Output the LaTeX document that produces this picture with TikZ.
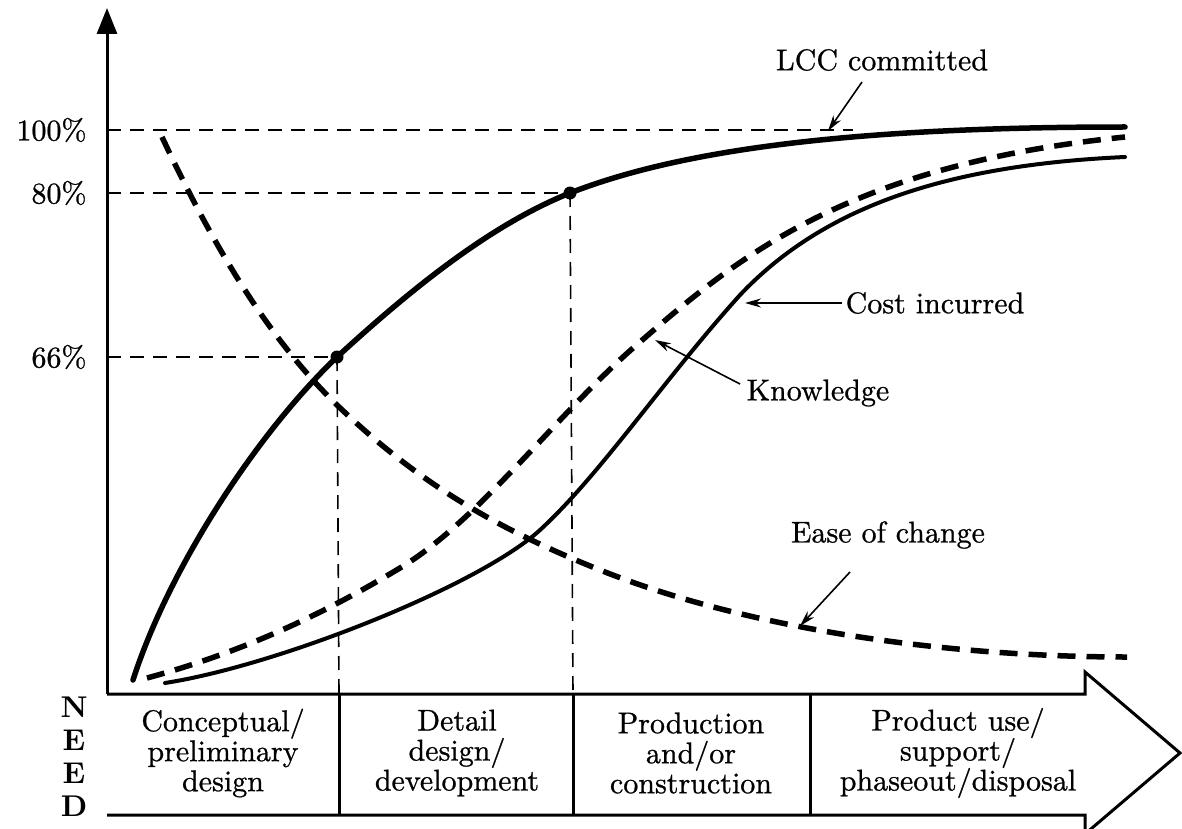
\documentclass[tikz,border=0pt]{standalone}
\usepackage{amsmath}
\usepackage{fontspec}
\newfontfamily\labelfont{lmroman10-regular.otf}[FakeBold=0.8]
\newfontfamily\needfont{lmroman10-bold.otf}
\usepackage{tikz}
\usetikzlibrary{arrows.meta}

\begin{document}
\begin{tikzpicture}[x=1pt,y=-1pt,
    every node/.style={font=\labelfont\fontsize{30}{30}\selectfont},
    guide/.style={line width=1.6pt,dash pattern=on 14pt off 9pt},
    heavy/.style={line width=5.5pt,line cap=round},
    heavydash/.style={line width=5.5pt,dash pattern=on 18pt off 11pt},
    pointer/.style={line width=1.6pt,-{Stealth[length=16pt,width=9pt]}},
    phase/.style={align=center,font=\labelfont\fontsize{30}{30}\selectfont}]

\useasboundingbox (0,0) rectangle (1182,829);

\coordinate (origin) at (107,694);
\coordinate (top) at (107,8);
\coordinate (d66) at (337,357);
\coordinate (d80) at (570,193);

% axis
\draw [line width=3pt,-{Triangle[length=26pt,width=20pt]}] (origin) -- (top);

% life cycle band
\draw [line width=3pt,line join=miter] (origin) -- (1085,694) -- (1085,672) -- (1180,753)
    -- (1085,834) -- (1085,815) -- (107,815);
\foreach \x in {339,573,810}
    \draw [line width=3pt] (\x,694) -- (\x,815);

% levels
\node [anchor=east] (p100) at (90,130) {100\%};
\node [anchor=east] (p80) at (90,193) {80\%};
\node [anchor=east] (p66) at (90,357) {66\%};
\draw [guide] (107,130) -- (853,130);
\draw [guide] (107,193) -- (d80);
\draw [guide] (107,357) -- (d66);
\draw [guide] (d66) -- (339,694);
\draw [guide] (d80) -- (573,694);

% curves
\draw [heavy] (133,680) .. controls (170,565) and (260,430) .. (d66)
    .. controls (410,290) and (490,225) .. (d80)
    .. controls (680,150) and (850,127) .. (1125,127);
\draw [heavydash] (162,137) .. controls (215,250) and (270,340) .. (337,405)
    .. controls (420,485) and (500,530) .. (600,570)
    .. controls (750,630) and (950,657) .. (1127,657);
\draw [heavydash] (147,678) .. controls (250,650) and (330,610) .. (400,568)
    .. controls (480,520) and (560,410) .. (640,342)
    .. controls (740,255) and (850,165) .. (1125,137);
\draw [line width=4pt,line cap=round] (165,683) .. controls (280,665) and (480,585) .. (540,530)
    .. controls (600,475) and (665,378) .. (740,295)
    .. controls (825,205) and (950,165) .. (1125,157);

\foreach \i in {d66,d80}
    \fill (\i) circle (6.5pt);

% labels
\node (lcc) at (882,60) {LCC committed};
\node (cost) at (935,303) {Cost incurred};
\node (know) at (818,393) {Knowledge};
\node (ease) at (888,535) {Ease of change};

\coordinate (onlcc) at (828,131);
\coordinate (oncost) at (745,303);
\coordinate (onknow) at (655,340);
\coordinate (onease) at (800,626);

\draw [pointer] (862,82) -- (onlcc);
\draw [pointer] (cost.west) -- (oncost);
\draw [pointer] (740,384) -- (onknow);
\draw [pointer] (850,572) -- (onease);

% phases
\node [font=\needfont\fontsize{30}{33}\selectfont,align=center] (need) at (74,757) {N\\E\\E\\D};
\node [phase] (conc) at (223,753) {Conceptual/\\preliminary\\design};
\node [phase] (det) at (457,753) {Detail\\design/\\development};
\node [phase] (prod) at (691,753) {Production\\and/or\\construction};
\node [phase] (use) at (958,753) {Product use/\\support/\\phaseout/disposal};

\end{tikzpicture}
\end{document}
